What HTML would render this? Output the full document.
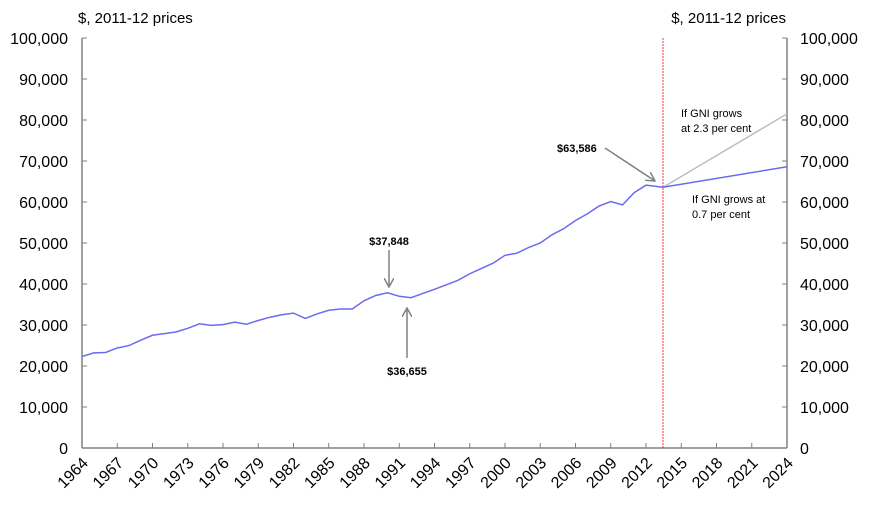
<!DOCTYPE html>
<html><head><meta charset="utf-8"><style>
body{margin:0;background:#fff;}
svg{display:block;font-family:"Liberation Sans",Arial,sans-serif;}
</style></head><body>
<svg width="871" height="507" viewBox="0 0 871 507" xmlns="http://www.w3.org/2000/svg">
<defs>
<marker id="ah" markerWidth="10" markerHeight="10" refX="9" refY="5" orient="auto" markerUnits="userSpaceOnUse"><path d="M0,0 L9,5 L0,10" fill="none" stroke="#808080" stroke-width="1.5"/></marker>
</defs>
<g stroke="#808080" stroke-width="1.5">
<line x1="82" y1="38" x2="82" y2="448"/>
<line x1="787" y1="38" x2="787" y2="448"/>
<line x1="82" y1="448" x2="787" y2="448"/>
</g>
<g stroke="#808080" stroke-width="1">
<path d="M82,38h5M82,79h5M82,120h5M82,161h5M82,202h5M82,243h5M82,284h5M82,325h5M82,366h5M82,407h5"/>
<path d="M782,38h5M782,79h5M782,120h5M782,161h5M782,202h5M782,243h5M782,284h5M782,325h5M782,366h5M782,407h5"/>
<path d="M117.25,443v5M152.5,443v5M187.75,443v5M223,443v5M258.25,443v5M293.5,443v5M328.75,443v5M364,443v5M399.25,443v5M434.5,443v5M469.75,443v5M505,443v5M540.25,443v5M575.5,443v5M610.75,443v5M646,443v5M681.25,443v5M716.5,443v5M751.75,443v5"/>
</g>
<g font-size="16" text-anchor="end">
<text x="68" y="44">100,000</text><text x="68" y="85">90,000</text><text x="68" y="126">80,000</text><text x="68" y="167">70,000</text><text x="68" y="208">60,000</text><text x="68" y="249">50,000</text><text x="68" y="290">40,000</text><text x="68" y="331">30,000</text><text x="68" y="372">20,000</text><text x="68" y="413">10,000</text><text x="68" y="454">0</text>
</g>
<g font-size="16">
<text x="800" y="44">100,000</text><text x="800" y="85">90,000</text><text x="800" y="126">80,000</text><text x="800" y="167">70,000</text><text x="800" y="208">60,000</text><text x="800" y="249">50,000</text><text x="800" y="290">40,000</text><text x="800" y="331">30,000</text><text x="800" y="372">20,000</text><text x="800" y="413">10,000</text><text x="800" y="454">0</text>
</g>
<g font-size="16" text-anchor="end">
<text transform="translate(89,464) rotate(-45)">1964</text>
<text transform="translate(124.25,464) rotate(-45)">1967</text>
<text transform="translate(159.5,464) rotate(-45)">1970</text>
<text transform="translate(194.75,464) rotate(-45)">1973</text>
<text transform="translate(230,464) rotate(-45)">1976</text>
<text transform="translate(265.25,464) rotate(-45)">1979</text>
<text transform="translate(300.5,464) rotate(-45)">1982</text>
<text transform="translate(335.75,464) rotate(-45)">1985</text>
<text transform="translate(371,464) rotate(-45)">1988</text>
<text transform="translate(406.25,464) rotate(-45)">1991</text>
<text transform="translate(441.5,464) rotate(-45)">1994</text>
<text transform="translate(476.75,464) rotate(-45)">1997</text>
<text transform="translate(512,464) rotate(-45)">2000</text>
<text transform="translate(547.25,464) rotate(-45)">2003</text>
<text transform="translate(582.5,464) rotate(-45)">2006</text>
<text transform="translate(617.75,464) rotate(-45)">2009</text>
<text transform="translate(653,464) rotate(-45)">2012</text>
<text transform="translate(688.25,464) rotate(-45)">2015</text>
<text transform="translate(723.5,464) rotate(-45)">2018</text>
<text transform="translate(758.75,464) rotate(-45)">2021</text>
<text transform="translate(794,464) rotate(-45)">2024</text>
</g>
<text x="78" y="23" font-size="15">$, 2011-12 prices</text>
<text x="786" y="23" font-size="15" text-anchor="end">$, 2011-12 prices</text>
<line x1="663" y1="38" x2="663" y2="448" stroke="#ff3030" stroke-width="1" stroke-dasharray="2,1"/>
<path d="M82,356.57L93.75,352.88L105.5,352.47L117.25,347.96L129,345.5L140.75,340.17L152.5,335.25L164.25,333.61L176,331.97L187.75,328.28L199.5,323.77L211.25,325.41L223,324.59L234.75,322.13L246.5,324.18L258.25,320.49L270,317.21L281.75,314.75L293.5,313.11L305.25,318.44L317,313.93L328.75,310.24L340.5,309.01L352.25,309.01L364,300.81L375.75,295.48L387.5,292.82L399.25,296.3L411,297.74L422.75,293.43L434.5,289.33L446.25,284.82L458,280.31L469.75,273.75L481.5,268.42L493.25,263.09L505,255.3L516.75,253.25L528.5,247.51L540.25,243L552,234.8L563.75,228.65L575.5,220.45L587.25,213.89L599,206.1L610.75,201.59L622.5,204.87L634.25,192.57L646,185.19L663,187.3" fill="none" stroke="#6b6bf0" stroke-width="1.5"/>
<line x1="663" y1="187.3" x2="787" y2="113.85" stroke="#b8b8b8" stroke-width="1.3"/>
<line x1="663" y1="187.3" x2="787" y2="166.74" stroke="#6b6bf0" stroke-width="1.5"/>
<g font-size="11">
<text x="681" y="117">If GNI grows</text><text x="681" y="132">at 2.3 per cent</text>
<text x="692" y="203">If GNI grows at</text><text x="692" y="218">0.7 per cent</text>
</g>
<g font-size="11" font-weight="bold">
<text x="557" y="152">$63,586</text>
<text x="389" y="245" text-anchor="middle">$37,848</text>
<text x="407" y="375" text-anchor="middle">$36,655</text>
</g>
<g stroke="#808080" stroke-width="1.5">
<line x1="605" y1="148" x2="655" y2="181" marker-end="url(#ah)"/>
<line x1="389" y1="250" x2="389" y2="287" marker-end="url(#ah)"/>
<line x1="407" y1="358" x2="407" y2="308" marker-end="url(#ah)"/>
</g>
</svg>
</body></html>
